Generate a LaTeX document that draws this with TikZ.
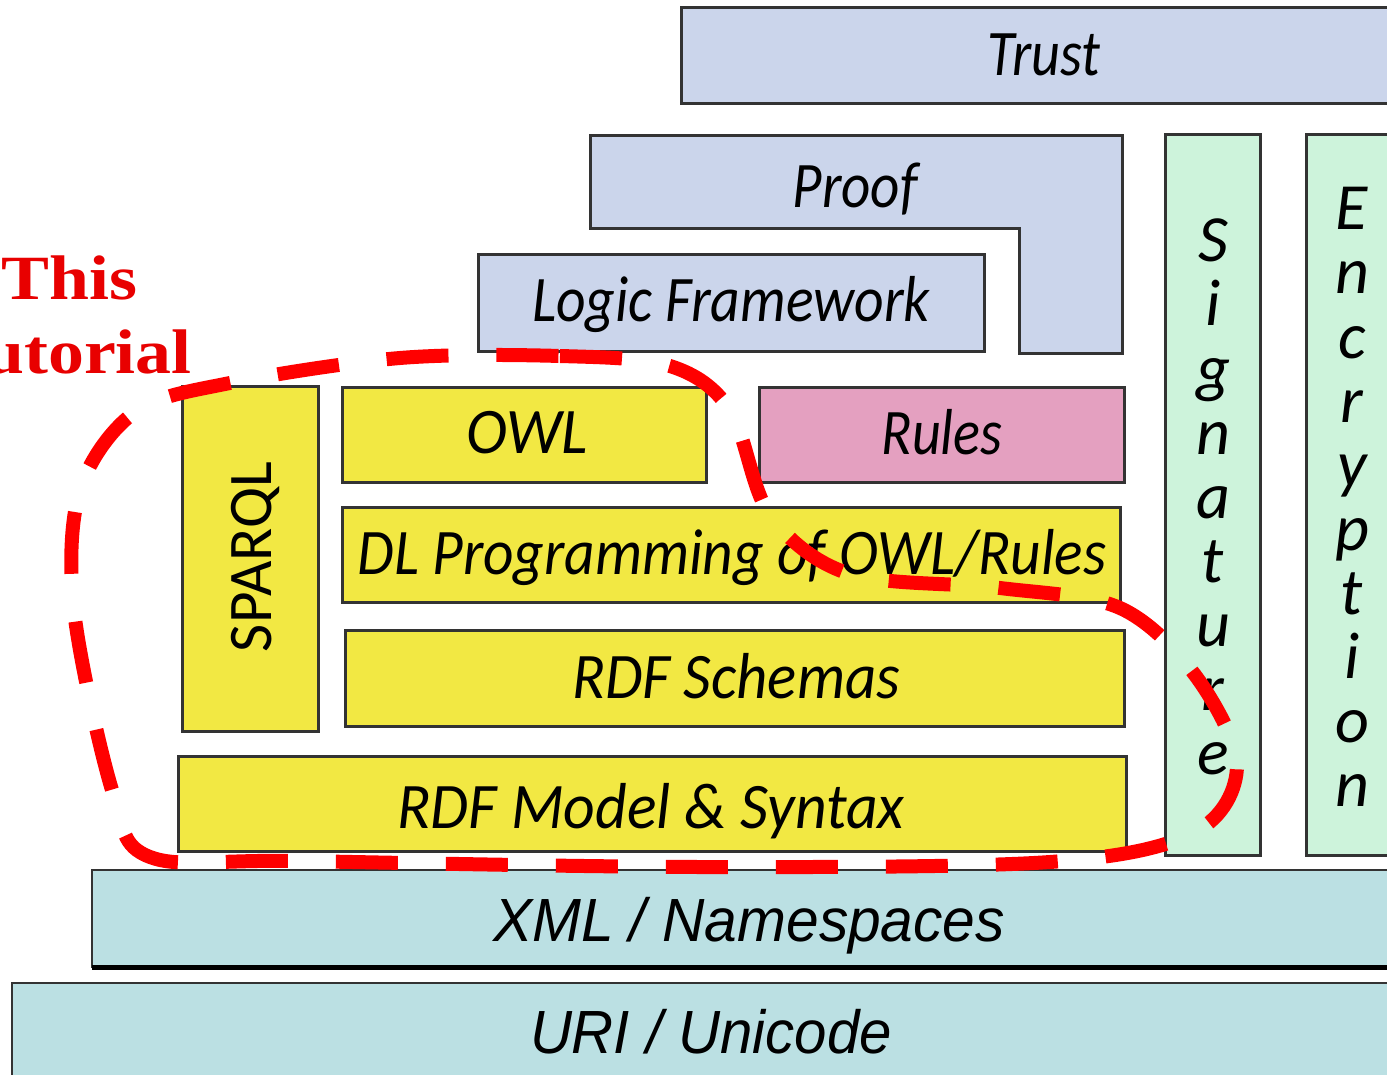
\documentclass[tikz,border=0pt]{standalone}
\usepackage{fontspec}
\setmainfont{Carlito}
\newfontfamily\arialf{Liberation Sans}
\newfontfamily\timesf{Liberation Serif}
\usepackage{graphicx}
\newsavebox\fitbox
\newcommand\fitw[2]{\sbox\fitbox{#2}\pgfmathsetmacro\fitfac{#1/\the\wd\fitbox}\scalebox{\fitfac}[1]{\usebox\fitbox}}
\definecolor{lav}{HTML}{CBD5EB}
\definecolor{yel}{HTML}{F2E843}
\definecolor{pnk}{HTML}{E4A0C0}
\definecolor{mnt}{HTML}{CDF3DB}
\definecolor{cyn}{HTML}{BBE0E3}
\definecolor{brd}{HTML}{333333}
\definecolor{tred}{HTML}{E80000}
\tikzset{
  box/.style={draw=brd, line width=3},
  lbl/.style={inner sep=0, anchor=base, font=\fontsize{65}{70}\selectfont\itshape},
  vlbl/.style={inner sep=0, anchor=base, font=\fontsize{66}{70}\selectfont\itshape},
  alab/.style={inner sep=0, anchor=base, font=\fontsize{61}{66}\selectfont\arialf\itshape},
  tut/.style={inner sep=0, text=tred, font=\fontsize{63}{66}\selectfont\timesf\bfseries},
  loop/.style={draw=red, line width=14, dash pattern=on 62 off 48}
}
\begin{document}
\begin{tikzpicture}[x=1pt,y=-1pt]
\useasboundingbox (0,0) rectangle (1387,1075);
\fill[white] (0,0) rectangle (1387,1075);
% upper layers
\draw[box, fill=lav] (681,8) rectangle (1400,104);
\draw[box, fill=lav] (590,136) -- (1122,136) -- (1122,353) -- (1019,353) -- (1019,229) -- (590,229) -- cycle;
\draw[box, fill=lav] (478,255) rectangle (984,351);
% side columns
\draw[box, fill=mnt] (1165,135) rectangle (1260,855);
\draw[box, fill=mnt] (1306,135) rectangle (1400,855);
% yellow & pink
\draw[box, fill=yel] (182,386) rectangle (318,731);
\draw[box, fill=yel] (342,387) rectangle (706,482);
\draw[box, fill=pnk] (759,387) rectangle (1124,482);
\draw[box, fill=yel] (342,507) rectangle (1120,602);
\draw[box, fill=yel] (345,630) rectangle (1124,726);
\draw[box, fill=yel] (178,756) rectangle (1126,851);
% base layers
\draw[draw=brd, line width=2, fill=cyn] (92,870) rectangle (1400,967);
\draw[black, line width=5] (92,967) -- (1400,967);
\draw[draw=brd, line width=2, fill=cyn] (12,983) rectangle (1400,1090);
% labels
\node[lbl] (trust) at (1044,76) {\fitw{113}{Trust}};
\node[lbl] (proof) at (855,208) {\fitw{125}{Proof}};
\node[lbl] (logic) at (731,322) {\fitw{398}{Logic Framework}};
\node[lbl] (owl) at (527,453) {\fitw{122}{OWL}};
\node[lbl] (rules) at (942,454) {\fitw{121}{Rules}};
\node[lbl] (dl) at (732,574) {\fitw{749}{DL Programming of OWL/Rules}};
\node[lbl] (rdfs) at (736,698) {\fitw{328}{RDF Schemas}};
\node[lbl] (rdfm) at (651,828) {\fitw{507}{RDF Model \& Syntax}};
\node[inner sep=0, rotate=90, anchor=base, font=\fontsize{62}{66}\selectfont] (sparql) at (271,557) {\fitw{190}{SPARQL}};
\foreach \ch [count=\i] in {S,i,g,n,a,t,u,r,e}
  \node[vlbl] (sig\i) at (1213,262+64*\i-64) {\ch};
\foreach \ch [count=\i] in {E,n,c,r,y,p,t,i,o,n}
  \node[vlbl] (enc\i) at (1352,230+64*\i-64) {\ch};
\node[alab] (xml) at (749,941) {\fitw{512}{XML / Namespaces}};
\node[alab] (uri) at (711,1053) {\fitw{362}{URI / Unicode}};
% tutorial label
\node[tut, anchor=base west] (this) at (1,300) {\scalebox{1.14}[1]{This}};
\node[tut, anchor=base east] (tutorial) at (192,373) {\scalebox{1.14}[1]{tutorial}};
% dashed loop
\draw[loop] plot[smooth cycle, tension=0.55] coordinates {
 (400,358) (560,356) (670,366) (730,410) (770,515) (850,574) (1000,588)
 (1120,608) (1195,675) (1237,765) (1195,832) (1050,862) (700,867)
 (300,861) (150,857) (112,790) (74,610) (80,490) (135,412) (230,383)};
\end{tikzpicture}
\end{document}
